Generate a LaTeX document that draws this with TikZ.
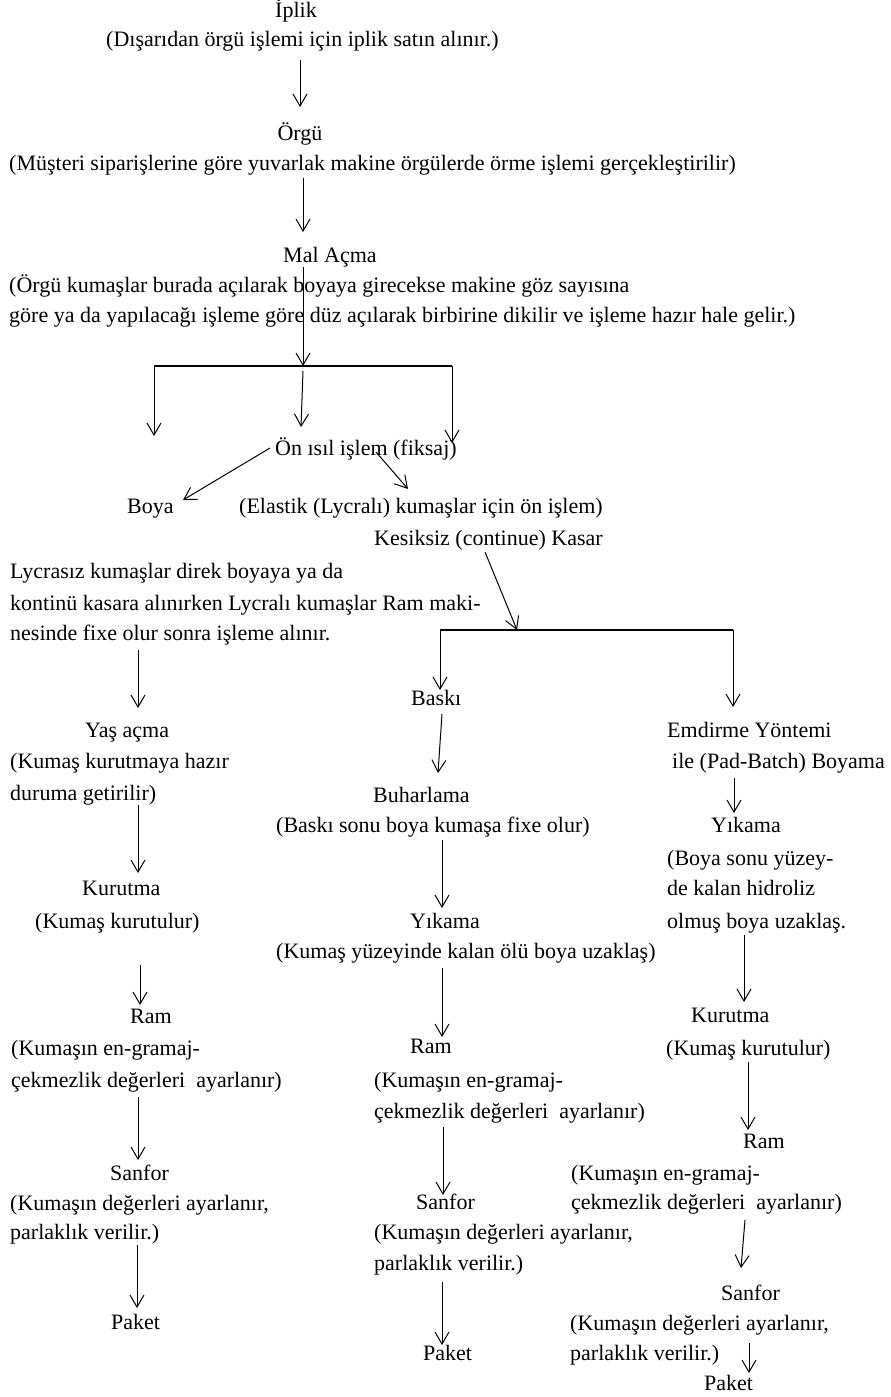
\documentclass[tikz,border=0pt]{standalone}
\usepackage{fontspec}
\setmainfont{Liberation Serif}
\usetikzlibrary{arrows.meta}
\tikzset{
  lt/.style={anchor=base west, inner sep=0pt, font=\fontsize{22}{31}\selectfont},
  ct/.style={anchor=base, inner sep=0pt, font=\fontsize{22}{31}\selectfont},
  arr/.style={line width=1pt, -{Straight Barb[length=12pt,width=14pt,line width=1pt]}},
  bar/.style={line width=1.6pt},
}
\begin{document}
\begin{tikzpicture}[x=1pt,y=-1pt]
\useasboundingbox[fill=white] (0,0) rectangle (891,1397);
% ---------- texts ----------
\node[ct] (iplik) at (296,18) {İplik};
\node[lt] (iplikd) at (106,47) {(Dışarıdan örgü işlemi için iplik satın alınır.)};
\node[ct] (orgu) at (300,140) {Örgü};
\node[lt] (orgud) at (9,170) {(Müşteri siparişlerine göre yuvarlak makine örgülerde örme işlemi gerçekleştirilir)};
\node[lt] (mal) at (283,262) {Mal Açma};
\node[lt] (mald1) at (9,292) {(Örgü kumaşlar burada açılarak boyaya girecekse makine göz sayısına};
\node[lt] (mald2) at (9,322) {göre ya da yapılacağı işleme göre düz açılarak birbirine dikilir ve işleme hazır hale gelir.)};
\node[lt] (onisil) at (275,455) {Ön ısıl işlem (fiksaj)};
\node[lt] (boya) at (127,513) {Boya};
\node[lt] (elastik) at (239,513) {(Elastik (Lycralı) kumaşlar için ön işlem)};
\node[lt] (kesiksiz) at (374,545) {Kesiksiz (continue) Kasar};
\node[lt] (lyc1) at (10,578) {Lycrasız kumaşlar direk boyaya ya da};
\node[lt] (lyc2) at (10,610) {kontinü kasara alınırken Lycralı kumaşlar Ram maki-};
\node[lt] (lyc3) at (10,640) {nesinde fixe olur sonra işleme alınır.};
\node[lt] (baski) at (411,705) {Baskı};
\node[lt] (yas) at (85,737) {Yaş açma};
\node[lt] (yasd1) at (10,768) {(Kumaş kurutmaya hazır};
\node[lt] (yasd2) at (10,800) {duruma getirilir)};
\node[lt] (emd1) at (667,737) {Emdirme Yöntemi};
\node[lt] (emd2) at (672,768) {ile (Pad-Batch) Boyama};
\node[lt] (buh) at (373,802) {Buharlama};
\node[lt] (buhd) at (276,832) {(Baskı sonu boya kumaşa fixe olur)};
\node[lt] (yik3) at (711,832) {Yıkama};
\node[lt] (yik3d1) at (667,865) {(Boya sonu yüzey-};
\node[lt] (yik3d2) at (667,895) {de kalan hidroliz};
\node[lt] (yik3d3) at (667,928) {olmuş boya uzaklaş.};
\node[lt] (kur1) at (82,895) {Kurutma};
\node[lt] (kur1d) at (35,928) {(Kumaş kurutulur)};
\node[lt] (yik2) at (410,928) {Yıkama};
\node[lt] (yik2d) at (276,958) {(Kumaş yüzeyinde kalan ölü boya uzaklaş)};
\node[lt] (ram1) at (130,1023) {Ram};
\node[lt] (kur3) at (691,1022) {Kurutma};
\node[lt] (ram1d1) at (11,1055) {(Kumaşın en-gramaj-};
\node[lt] (ram2) at (410,1053) {Ram};
\node[lt] (kur3d) at (666,1055) {(Kumaş kurutulur)};
\node[lt] (ram1d2) at (11,1087) {çekmezlik değerleri\ \ ayarlanır)};
\node[lt] (ram2d1) at (374,1087) {(Kumaşın en-gramaj-};
\node[lt] (ram2d2) at (374,1118) {çekmezlik değerleri\ \ ayarlanır)};
\node[lt] (ram3) at (743,1148) {Ram};
\node[lt] (san1) at (110,1180) {Sanfor};
\node[lt] (ram3d1) at (571,1180) {(Kumaşın en-gramaj-};
\node[lt] (san1d1) at (10,1210) {(Kumaşın değerleri ayarlanır,};
\node[lt] (san2) at (416,1209) {Sanfor};
\node[lt] (ram3d2) at (571,1209) {çekmezlik değerleri\ \ ayarlanır)};
\node[lt] (san1d2) at (10,1239) {parlaklık verilir.)};
\node[lt] (san2d1) at (374,1239) {(Kumaşın değerleri ayarlanır,};
\node[lt] (san2d2) at (374,1270) {parlaklık verilir.)};
\node[lt] (san3) at (721,1300) {Sanfor};
\node[lt] (pak1) at (111,1329) {Paket};
\node[lt] (san3d1) at (570,1330) {(Kumaşın değerleri ayarlanır,};
\node[lt] (pak2) at (423,1360) {Paket};
\node[lt] (san3d2) at (570,1360) {parlaklık verilir.)};
\node[lt] (pak3) at (704,1390) {Paket};
% ---------- connector end points ----------
\coordinate (a1s) at (300,60);   \coordinate (a1e) at (300,107);
\coordinate (a2s) at (303,178);  \coordinate (a2e) at (303,232);
\coordinate (a3s) at (303,267);  \coordinate (b1m) at (303,366);
\coordinate (b1l) at (154,366);  \coordinate (b1r) at (452,366);
\coordinate (a4e) at (154,436);
\coordinate (a5s) at (303,371);  \coordinate (a5e) at (301,427);
\coordinate (a6e) at (452,443);
\coordinate (a7s) at (270,448);  \coordinate (a7e) at (183,500);
\coordinate (a8s) at (376,452);  \coordinate (a8e) at (408,489);
\coordinate (a9s) at (485,552);  \coordinate (b2m) at (517,630);
\coordinate (b2l) at (440,630);  \coordinate (b2r) at (733,630);
\coordinate (a10e) at (440,690);
\coordinate (a11e) at (733,707);
\coordinate (a12s) at (138,650); \coordinate (a12e) at (138,708);
\coordinate (a13s) at (442,714); \coordinate (a13e) at (438,773);
\coordinate (a14s) at (734,778); \coordinate (a14e) at (734,813);
\coordinate (a15s) at (138,805); \coordinate (a15e) at (138,873);
\coordinate (a16s) at (442,840); \coordinate (a16e) at (442,908);
\coordinate (a17s) at (744,935); \coordinate (a17e) at (744,1002);
\coordinate (a18s) at (140,965); \coordinate (a18e) at (140,1005);
\coordinate (a19s) at (442,968); \coordinate (a19e) at (442,1037);
\coordinate (a20s) at (138,1097); \coordinate (a20e) at (138,1160);
\coordinate (a21s) at (748,1062); \coordinate (a21e) at (748,1130);
\coordinate (a22s) at (443,1127); \coordinate (a22e) at (443,1195);
\coordinate (a23s) at (745,1220); \coordinate (a23e) at (741,1268);
\coordinate (a24s) at (137,1245); \coordinate (a24e) at (137,1308);
\coordinate (a25s) at (442,1282); \coordinate (a25e) at (442,1345);
\coordinate (a26s) at (749,1343); \coordinate (a26e) at (749,1373);
% ---------- connectors ----------
\draw[arr] (a1s) -- (a1e);
\draw[arr] (a2s) -- (a2e);
\draw[arr] (a3s) -- (b1m);
\draw[bar] (b1l) -- (b1r);
\draw[arr] (b1l) -- (a4e);
\draw[arr] (a5s) -- (a5e);
\draw[arr] (b1r) -- (a6e);
\draw[arr] (a7s) -- (a7e);
\draw[arr] (a8s) -- (a8e);
\draw[arr] (a9s) -- (b2m);
\draw[bar] (b2l) -- (b2r);
\draw[arr] (b2l) -- (a10e);
\draw[arr] (b2r) -- (a11e);
\draw[arr] (a12s) -- (a12e);
\draw[arr] (a13s) -- (a13e);
\draw[arr] (a14s) -- (a14e);
\draw[arr] (a15s) -- (a15e);
\draw[arr] (a16s) -- (a16e);
\draw[arr] (a17s) -- (a17e);
\draw[arr] (a18s) -- (a18e);
\draw[arr] (a19s) -- (a19e);
\draw[arr] (a20s) -- (a20e);
\draw[arr] (a21s) -- (a21e);
\draw[arr] (a22s) -- (a22e);
\draw[arr] (a23s) -- (a23e);
\draw[arr] (a24s) -- (a24e);
\draw[arr] (a25s) -- (a25e);
\draw[arr] (a26s) -- (a26e);
\end{tikzpicture}
\end{document}
